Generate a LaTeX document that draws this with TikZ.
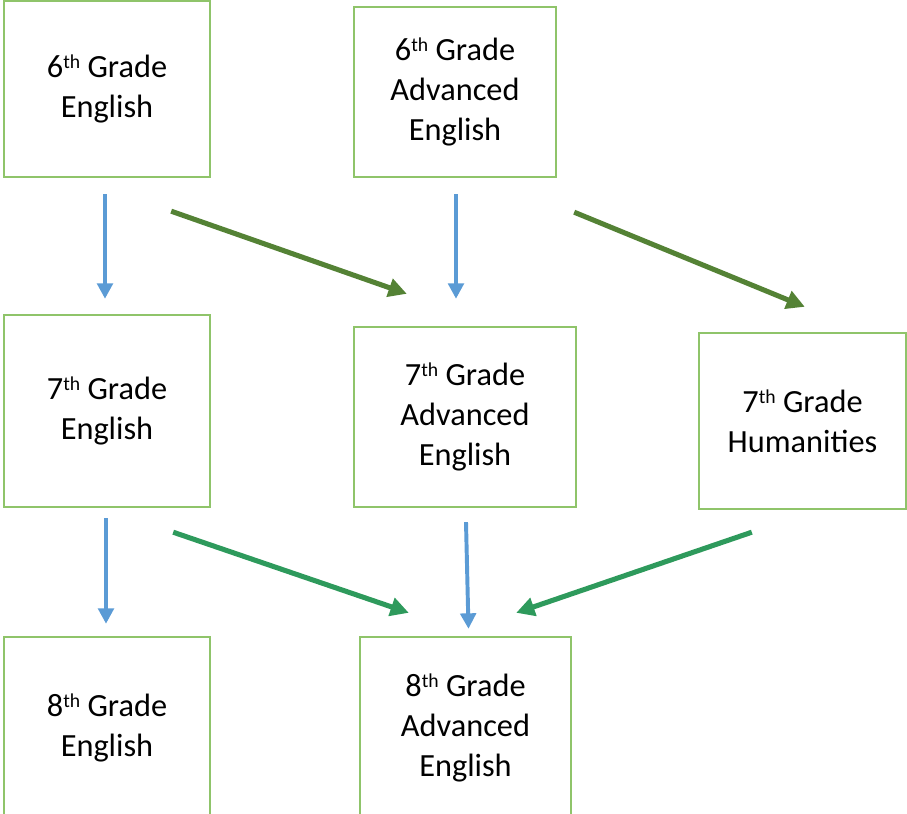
\documentclass[tikz,border=0pt]{standalone}
\usepackage{fontspec}
\setmainfont{Carlito}
\usetikzlibrary{positioning, arrows.meta, calc}
\definecolor{boxgreen}{HTML}{8FC46A}
\definecolor{stepblue}{HTML}{5B9BD5}
\definecolor{upgreen}{HTML}{548235}
\definecolor{lowgreen}{HTML}{2E9A5C}
\newcommand{\ordth}{\raisebox{0.55ex}{\fontsize{14}{14}\selectfont th}}
\tikzset{
  x=0.025cm, y=-0.025cm,
  course/.style={draw=boxgreen, line width=1.7pt, fill=white, align=center,
    inner sep=0pt, font=\fontsize{23}{28.5}\selectfont},
  samelink/.style={-{Triangle[length=11pt,width=11pt]}, stepblue, line width=2.8pt},
  uplink/.style={-{Triangle[length=13pt,width=13pt]}, upgreen, line width=3.6pt},
  lowlink/.style={-{Triangle[length=13pt,width=13pt]}, lowgreen, line width=3.6pt},
}

\begin{document}
\begin{tikzpicture}
      \useasboundingbox (0,0) rectangle (907,814);
      \clip (0,0) rectangle (907,814);

      \node[course, minimum width=206*0.025cm, minimum height=176*0.025cm] (g6e) at (107,89)
        {6\ordth{} Grade\\English};
      \node[course, minimum width=202*0.025cm, minimum height=170*0.025cm] (g6a) at (455,92)
        {6\ordth{} Grade\\Advanced\\English};
      \node[course, minimum width=206*0.025cm, minimum height=192*0.025cm] (g7e) at (107,411)
        {7\ordth{} Grade\\English};
      \node[course, minimum width=222*0.025cm, minimum height=180*0.025cm] (g7a) at (465,417)
        {7\ordth{} Grade\\Advanced\\English};
      \node[course, minimum width=207*0.025cm, minimum height=176*0.025cm] (g7h) at (802.5,421)
        {7\ordth{} Grade\\Humanities};
      \node[course, minimum width=206*0.025cm, minimum height=182*0.025cm] (g8e) at (107,728)
        {8\ordth{} Grade\\English};
      \node[course, minimum width=211*0.025cm, minimum height=182*0.025cm] (g8a) at (465.5,728)
        {8\ordth{} Grade\\Advanced\\English};

      % same track
      \draw[samelink] ($(g6e.south)+(-2,16)$) -- ($(g7e.north)+(-2,-15)$);
      \draw[samelink] ($(g6a.south)+(1,16)$) -- ($(g7a.north)+(-9,-27)$);
      \draw[samelink] ($(g7e.south)+(-1,10)$) -- ($(g8e.north)+(-1,-12)$);
      \draw[samelink] ($(g7a.south)+(1,14)$) -- ($(g8a.north)+(3,-7)$);

      % moving up
      \draw[uplink] ($(g6e.south east)+(-40,33)$) -- ($(g7a.north west)+(54,-32)$);
      \draw[uplink] ($(g6a.south east)+(17,34)$) -- ($(g7h.north west)+(107,-25)$);

      % into 8th advanced
      \draw[lowlink] ($(g7e.south east)+(-38,24)$) -- ($(g8a.north west)+(50,-23)$);
      \draw[lowlink] ($(g7h.south west)+(54,22)$) -- ($(g8a.north east)+(-56,-23)$);
    \end{tikzpicture}
\end{document}
